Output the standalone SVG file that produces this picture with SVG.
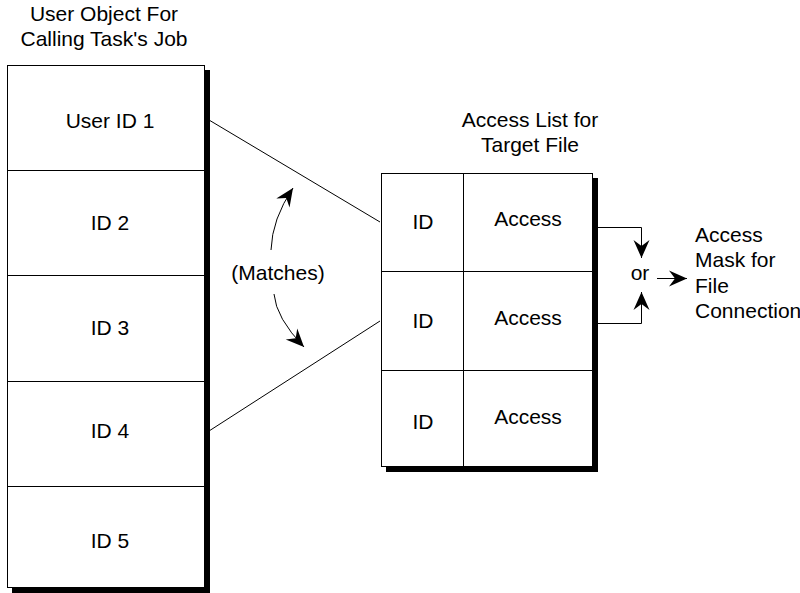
<svg xmlns="http://www.w3.org/2000/svg" width="800" height="593" viewBox="0 0 800 593">
<style>
text{font-family:"Liberation Sans",Arial,sans-serif;font-size:21px;fill:#000}
.c{text-anchor:middle}
.box{fill:#fff;stroke:#000;stroke-width:1}
.sh{fill:#000}
.div{stroke:#000;stroke-width:1;fill:none}
.ln{stroke:#000;stroke-width:1;fill:none}
.ar{stroke:#000;stroke-width:1;fill:none;marker-end:url(#ah)}
</style>
<defs>
<marker id="ah" markerUnits="userSpaceOnUse" markerWidth="20" markerHeight="20" refX="0" refY="0" orient="auto" overflow="visible">
<path d="M0,0 L-18,-8 L-12,0 L-18,8 Z" fill="#000"/>
</marker>
</defs>
<g id="title-user">
<text class="c" x="104" y="21">User Object For</text>
<text class="c" x="104" y="46">Calling Task's Job</text>
</g>
<g id="title-access">
<text class="c" x="530" y="127">Access List for</text>
<text class="c" x="530" y="152">Target File</text>
</g>
<g id="user-object">
<rect class="sh" x="12" y="70" width="198" height="523"/>
<rect class="box" x="7.5" y="65.5" width="197" height="522"/>
<line class="div" x1="7.5" y1="170.5" x2="204.5" y2="170.5"/>
<line class="div" x1="7.5" y1="275.5" x2="204.5" y2="275.5"/>
<line class="div" x1="7.5" y1="381.5" x2="204.5" y2="381.5"/>
<line class="div" x1="7.5" y1="486.5" x2="204.5" y2="486.5"/>
</g>
<g id="uid1"><text class="c" x="110" y="128">User ID 1</text></g>
<g id="uid2"><text class="c" x="110" y="230">ID 2</text></g>
<g id="uid3"><text class="c" x="110" y="335">ID 3</text></g>
<g id="uid4"><text class="c" x="110" y="438">ID 4</text></g>
<g id="uid5"><text class="c" x="110" y="548">ID 5</text></g>
<g id="access-list">
<rect class="sh" x="386" y="178" width="212" height="294"/>
<rect class="box" x="381.5" y="173.5" width="211" height="293"/>
<line class="div" x1="463.5" y1="173.5" x2="463.5" y2="466.5"/>
<line class="div" x1="381.5" y1="271.5" x2="592.5" y2="271.5"/>
<line class="div" x1="381.5" y1="370.5" x2="592.5" y2="370.5"/>
</g>
<g id="row1"><text class="c" x="423" y="229">ID</text><text class="c" x="528" y="226">Access</text></g>
<g id="row2"><text class="c" x="423" y="328">ID</text><text class="c" x="528" y="325">Access</text></g>
<g id="row3"><text class="c" x="423" y="429">ID</text><text class="c" x="528" y="424">Access</text></g>
<g id="matches"><text class="c" x="278" y="280">(Matches)</text></g>
<g id="or-label"><text class="c" x="640" y="280">or</text></g>
<g id="result">
<text x="695" y="242">Access</text>
<text x="695" y="267">Mask for</text>
<text x="695" y="293">File</text>
<text x="695" y="318">Connection</text>
</g>
<g id="connectors">
<line class="ln" x1="209" y1="120" x2="380" y2="222"/>
<line class="ln" x1="209" y1="431" x2="380" y2="321"/>
<path class="ar" d="M271,250 Q272,219 293,188"/>
<path class="ar" d="M274,294 Q276,318 304,347"/>
<path class="ar" d="M598,227.5 H641.5 V258"/>
<path class="ar" d="M598,323.5 H641.5 V292"/>
<path class="ar" d="M657,278.5 H687"/>
</g>
</svg>
